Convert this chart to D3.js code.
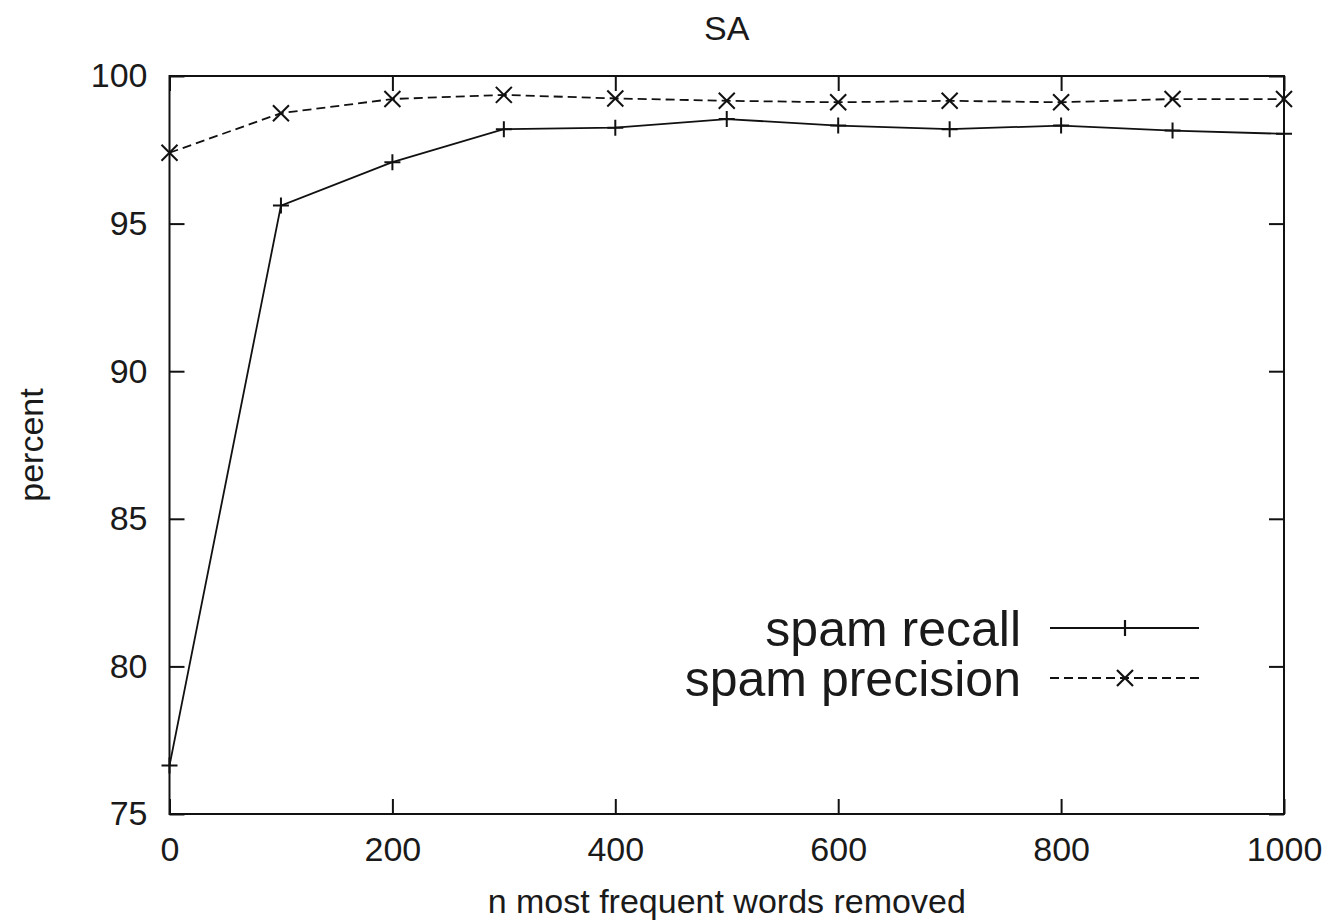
<!DOCTYPE html>
<html>
<head>
<meta charset="utf-8">
<script src="https://cdn.jsdelivr.net/npm/d3@7"></script>
<style>
  body { margin: 0; background: #fff; }
  svg { font-family: "Liberation Sans", Arial, sans-serif; }
</style>
</head>
<body>
<div id="chart"></div>
<script>
// values
const removed = [0, 100, 200, 300, 400, 500, 600, 700, 800, 900, 1000];
const spamRecall = [76.64, 95.61, 97.08, 98.2, 98.25, 98.54, 98.32, 98.2, 98.32, 98.15, 98.04];
const spamPrecision = [97.4, 98.74, 99.22, 99.36, 99.24, 99.16, 99.11, 99.16, 99.11, 99.22, 99.22];
const xTicks = [0, 200, 400, 600, 800, 1000];
const yTicks = [75, 80, 85, 90, 95, 100];

const width = 1333, height = 921;
const margin = {top: 76, right: 49, bottom: 107, left: 169.5};

const svg = d3.select("#chart").append("svg")
    .attr("width", width)
    .attr("height", height);

const x = d3.scaleLinear([0, 1000], [margin.left, width - margin.right]);
const y = d3.scaleLinear([75, 100], [height - margin.bottom, margin.top]);

const tickLen = 15;
const fontSize = 34;

// axes, ticks drawn inward and mirrored like gnuplot
const axisStyle = g => {
    g.select(".domain").remove();
    g.selectAll("line").attr("stroke", "#111").attr("stroke-width", 2);
    g.selectAll("text").attr("font-size", fontSize).attr("fill", "#1a1a1a");
};

svg.append("g")
    .attr("transform", `translate(0,${y(75)})`)
    .call(d3.axisBottom(x).tickValues(xTicks).tickSize(-tickLen).tickPadding(23).tickFormat(d3.format("d")))
    .call(axisStyle);

svg.append("g")
    .attr("transform", `translate(0,${y(100)})`)
    .call(d3.axisTop(x).tickValues(xTicks).tickSize(-tickLen).tickFormat(""))
    .call(axisStyle);

svg.append("g")
    .attr("transform", `translate(${x(0)},0)`)
    .call(d3.axisLeft(y).tickValues(yTicks).tickSize(-tickLen).tickPadding(22).tickFormat(d3.format("d")))
    .call(axisStyle);

svg.append("g")
    .attr("transform", `translate(${x(1000)},0)`)
    .call(d3.axisRight(y).tickValues(yTicks).tickSize(-tickLen).tickFormat(""))
    .call(axisStyle);

// frame
svg.append("rect")
    .attr("x", x(0))
    .attr("y", y(100))
    .attr("width", x(1000) - x(0))
    .attr("height", y(75) - y(100))
    .attr("fill", "none")
    .attr("stroke", "#111")
    .attr("stroke-width", 2);

const series = [
    {name: "spam recall", values: spamRecall, dash: null, marker: "plus"},
    {name: "spam precision", values: spamPrecision, dash: "9,5", marker: "cross"}
];

const line = d3.line()
    .x((d, i) => x(removed[i]))
    .y(d => y(d));

const m = 8;
function markerPath(type, cx, cy) {
    if (type === "plus")
        return `M${cx - m},${cy}H${cx + m}M${cx},${cy - m}V${cy + m}`;
    return `M${cx - m},${cy - m}L${cx + m},${cy + m}M${cx - m},${cy + m}L${cx + m},${cy - m}`;
}

const plot = svg.append("g");

series.forEach(s => {
    plot.append("path")
        .datum(s.values)
        .attr("fill", "none")
        .attr("stroke", "#111")
        .attr("stroke-width", 1.8)
        .attr("stroke-dasharray", s.dash)
        .attr("d", line);

    plot.append("g")
        .selectAll("path")
        .data(s.values)
        .join("path")
        .attr("d", (d, i) => markerPath(s.marker, x(removed[i]), y(d)))
        .attr("stroke", "#111")
        .attr("stroke-width", 2)
        .attr("fill", "none");
});

// legend
const legend = svg.append("g");
series.forEach((s, i) => {
    const ly = 628 + i * 50;
    legend.append("text")
        .attr("x", 1021)
        .attr("y", ly)
        .attr("dy", "0.35em")
        .attr("text-anchor", "end")
        .attr("font-size", 50)
        .attr("fill", "#1a1a1a")
        .text(s.name);
    legend.append("line")
        .attr("x1", 1050)
        .attr("x2", 1199)
        .attr("y1", ly)
        .attr("y2", ly)
        .attr("stroke", "#111")
        .attr("stroke-width", 1.8)
        .attr("stroke-dasharray", s.dash);
    legend.append("path")
        .attr("d", markerPath(s.marker, 1125, ly))
        .attr("stroke", "#111")
        .attr("stroke-width", 2.2);
});

// titles
svg.append("text")
    .attr("x", (x(0) + x(1000)) / 2)
    .attr("y", 28)
    .attr("dy", "0.35em")
    .attr("text-anchor", "middle")
    .attr("font-size", fontSize)
    .attr("fill", "#1a1a1a")
    .text("SA");

svg.append("text")
    .attr("x", (x(0) + x(1000)) / 2)
    .attr("y", 901)
    .attr("dy", "0.35em")
    .attr("text-anchor", "middle")
    .attr("font-size", fontSize)
    .attr("fill", "#1a1a1a")
    .text("n most frequent words removed");

svg.append("text")
    .attr("transform", `translate(31,${(y(75) + y(100)) / 2}) rotate(-90)`)
    .attr("dy", "0.35em")
    .attr("text-anchor", "middle")
    .attr("font-size", fontSize)
    .attr("fill", "#1a1a1a")
    .text("percent");
</script>
</body>
</html>
